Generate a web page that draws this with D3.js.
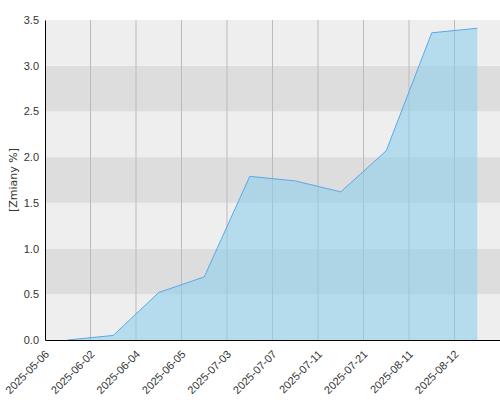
<!DOCTYPE html>
<html><head><meta charset="utf-8">
<script src="https://cdn.jsdelivr.net/npm/d3@7"></script>
<style>body{margin:0}svg{font-family:"DejaVu Sans",sans-serif}</style>
</head><body>
<svg id="c" width="500" height="400"></svg>
<script>
const dates = ["2025-05-06","2025-06-02","2025-06-04","2025-06-05","2025-07-03","2025-07-07","2025-07-11","2025-07-21","2025-08-11","2025-08-12"];
const values = [0.0, 0.05, 0.52, 0.69, 1.79, 1.74, 1.62, 2.07, 3.36, 3.41];
const yTicks = [0, 0.5, 1, 1.5, 2, 2.5, 3, 3.5];

const m = {l: 45, r: 0, t: 20, b: 60};
const W = 500, H = 400;
const svg = d3.select("#c");
const x = d3.scaleBand().domain(dates).range([m.l, W - m.r]);
const y = d3.scaleLinear().domain([0, 3.5]).range([H - m.b, m.t]);

// bands
const g = svg.append("g");
yTicks.slice(0, -1).forEach((t, i) => {
  g.append("rect").attr("x", m.l).attr("width", W - m.l)
    .attr("y", y(t + 0.5)).attr("height", y(t) - y(t + 0.5))
    .attr("fill", i % 2 ? "#dddddd" : "#eeeeee");
});
// vertical grid
svg.append("g").selectAll("line").data(dates.slice(1)).join("line")
  .attr("x1", d => x(d)).attr("x2", d => x(d))
  .attr("y1", m.t).attr("y2", H - m.b)
  .attr("stroke", "#bbbbbb").attr("stroke-width", 1);

const pts = dates.map((d, i) => [x(d) + x.bandwidth() / 2, y(values[i])]);
svg.append("path").datum(pts)
  .attr("d", d3.area().x(p => p[0]).y0(y(0)).y1(p => p[1]))
  .attr("fill", "rgba(135,206,235,0.55)");
svg.append("path").datum(pts)
  .attr("d", d3.line())
  .attr("fill", "none").attr("stroke", "#5aa8e8").attr("stroke-width", 1);

// axes
const ya = svg.append("g").attr("transform", `translate(${m.l},0)`)
  .call(d3.axisLeft(y).tickValues(yTicks).tickFormat(d3.format(".1f")).tickSize(0).tickPadding(6));
ya.select(".domain").attr("stroke", "#000");
ya.selectAll("text").attr("font-size", 11).attr("fill", "#333");

const xa = svg.append("g").attr("transform", `translate(0,${H - m.b})`)
  .call(d3.axisBottom(x).tickSize(0).tickSizeOuter(0));
xa.select(".domain").attr("stroke", "#000");
xa.selectAll(".tick").attr("transform", d => `translate(${x(d)},0)`);
xa.selectAll("text").attr("font-size", 11).attr("fill", "#333")
  .attr("text-anchor", "end").attr("dy", "0.35em")
  .attr("transform", "translate(0,10) rotate(-45)");

svg.append("text").attr("transform", `translate(17,${(m.t + H - m.b) / 2}) rotate(-90)`)
  .attr("text-anchor", "middle").attr("font-size", 11).attr("fill", "#333").text("[Zmiany %]");
</script>
</body></html>
